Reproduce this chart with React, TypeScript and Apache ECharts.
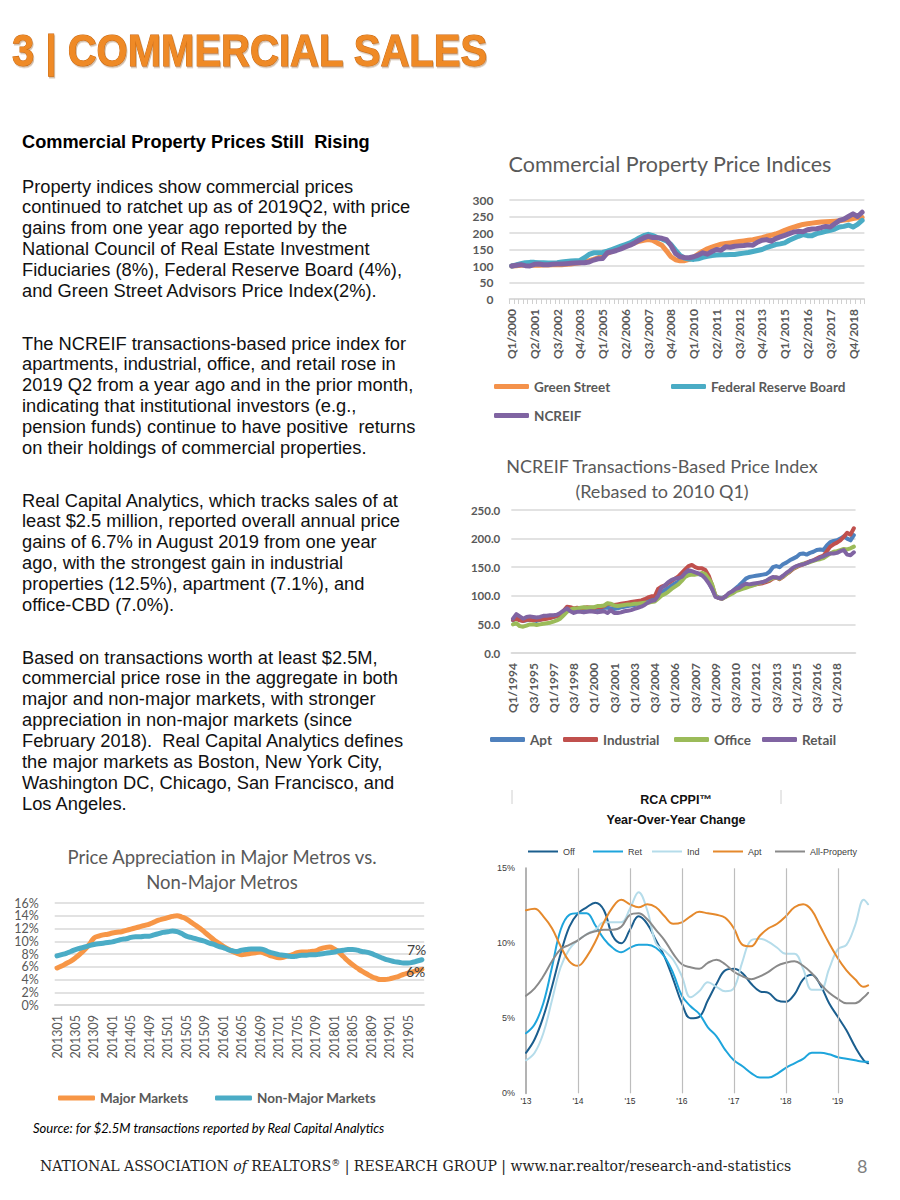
import React, { useEffect, useRef } from "react";
import * as echarts from "echarts";

// ---------------- Chart 1: Commercial Property Price Indices (quarterly, Q1/2000 ..) ----------------
const CPPI_START_YEAR = 2000;
const CPPI_GREEN_STREET = [
  100, 101, 102, 103, 103, 102, 102, 103, 103, 104, 104, 104, 105, 106, 108, 110,
  113, 116, 120, 125, 131, 138, 145, 150, 155, 160, 165, 170, 175, 178, 180, 178,
  170, 163, 146, 128, 119, 116, 116, 120, 127, 136, 145, 152, 157, 162, 166, 168,
  170, 172, 174, 176, 178, 180, 183, 186, 190, 193, 197, 202, 208, 213, 218, 222,
  226, 228, 230, 232, 233, 234, 235, 236, 237, 239, 241, 244, 246, 247,
];
const CPPI_FRB = [
  100, 103, 107, 110, 111, 111, 110, 110, 109, 109, 110, 112, 114, 115, 116, 117,
  125, 135, 140, 140, 141, 145, 150, 155, 160, 165, 170, 177, 185, 192, 196, 192,
  186, 182, 176, 165, 148, 132, 124, 121, 120, 122, 126, 129, 132, 133, 134, 134,
  135, 135, 137, 139, 141, 144, 147, 150, 156, 160, 165, 167, 170, 178, 184, 190,
  195, 192, 192, 198, 201, 205, 208, 212, 218, 220, 224, 218, 226, 238,
];
const CPPI_NCREIF = [
  100, 102, 104, 101, 100, 105, 106, 104, 104, 105, 106, 106, 107, 108, 109, 110,
  110, 112, 118, 122, 123, 140, 143, 147, 152, 158, 163, 170, 178, 185, 190, 186,
  186, 184, 180, 162, 138, 128, 126, 125, 128, 133, 140, 136, 144, 150, 148, 158,
  157, 160, 161, 162, 164, 163, 172, 178, 180, 175, 183, 188, 193, 198, 203, 205,
  204, 210, 212, 213, 216, 220, 218, 228, 238, 242, 250, 258, 250, 263,
];

// ---------------- Chart 2: NCREIF Transactions-Based Price Index (quarterly, Q1/1994 ..) ----------------
const TBI_START_YEAR = 1994;
const TBI_APT = [
  57, 62, 58, 56, 57, 58, 57, 56, 58, 60, 61, 62, 63, 64, 66, 70,
  76, 78, 75, 76, 76, 77, 76, 77, 78, 77, 78, 79, 79, 78, 77, 78,
  80, 81, 82, 83, 84, 85, 86, 88, 91, 93, 94, 100, 105, 110, 114, 118,
  122, 125, 130, 135, 140, 142, 140, 138, 136, 132, 124, 112, 100, 97, 96, 99,
  103, 108, 113, 118, 124, 130, 133, 134, 135, 136, 137, 138, 142, 150, 152, 150,
  155, 158, 162, 165, 168, 173, 174, 172, 175, 177, 180, 181, 180, 188, 194, 196,
  197, 200, 204, 200, 197, 206,
];
const TBI_INDUSTRIAL = [
  58, 60, 57, 56, 58, 58, 57, 58, 58, 59, 60, 61, 63, 65, 68, 74,
  81, 80, 78, 79, 78, 79, 80, 79, 79, 80, 80, 82, 86, 85, 84, 85,
  86, 87, 88, 89, 90, 91, 92, 94, 97, 99, 99, 112, 116, 118, 122, 126,
  130, 134, 140, 146, 152, 154, 150, 148, 148, 145, 135, 118, 100, 96, 95, 99,
  103, 107, 110, 112, 114, 116, 118, 119, 120, 121, 122, 124, 126, 130, 132, 129,
  133, 138, 142, 147, 150, 153, 155, 158, 160, 162, 165, 168, 170, 178, 186, 190,
  193, 197, 203, 210, 207, 218,
];
const TBI_OFFICE = [
  50, 52, 47, 46, 48, 50, 50, 49, 50, 51, 52, 53, 55, 57, 60, 66,
  72, 76, 78, 78, 79, 80, 79, 80, 80, 82, 82, 83, 87, 86, 83, 82,
  83, 84, 85, 85, 86, 86, 87, 88, 88, 89, 90, 95, 100, 103, 107, 112,
  116, 120, 126, 133, 136, 137, 137, 138, 140, 138, 130, 120, 100, 96, 95, 98,
  101, 104, 108, 110, 112, 114, 116, 118, 120, 122, 124, 126, 128, 131, 132, 130,
  134, 138, 143, 148, 151, 154, 156, 157, 159, 161, 163, 164, 166, 170, 174, 177,
  178, 180, 182, 181, 183, 186,
];
const TBI_RETAIL = [
  60, 68, 64, 60, 63, 64, 63, 62, 63, 65, 65, 66, 66, 67, 70, 74,
  78, 73, 70, 72, 72, 71, 72, 73, 72, 71, 72, 73, 70, 75, 70, 70,
  71, 73, 74, 75, 77, 79, 81, 84, 88, 91, 92, 100, 114, 118, 124, 128,
  130, 131, 133, 140, 145, 143, 141, 139, 136, 130, 122, 112, 98, 96, 95, 99,
  105, 108, 112, 114, 118, 121, 120, 121, 122, 123, 124, 126, 130, 133, 132, 131,
  135, 140, 144, 149, 152, 154, 155, 157, 160, 162, 164, 167, 169, 172, 174, 174,
  175, 178, 180, 172, 171, 176,
];

// ---------------- Chart 3: Price Appreciation, Major vs Non-Major (monthly, 201301 ..) ----------------
const METRO_START_YEAR = 2013;
const METRO_MAJOR = [
  5.8, 6.1, 6.5, 6.9, 7.4, 8.0, 8.7, 9.5, 10.5, 10.8, 11.0, 11.1,
  11.3, 11.4, 11.5, 11.7, 11.9, 12.1, 12.3, 12.5, 12.7, 13.0, 13.3, 13.5,
  13.7, 13.9, 14.0, 13.8, 13.5, 13.0, 12.5, 12.0, 11.4, 10.8, 10.2, 9.7,
  9.2, 8.8, 8.4, 8.1, 7.9, 8.0, 8.1, 8.2, 8.3, 8.1, 7.8, 7.6,
  7.4, 7.5, 7.7, 7.9, 8.2, 8.3, 8.3, 8.4, 8.5, 8.8, 9.0, 9.1,
  8.8, 8.3, 7.6, 6.9, 6.3, 5.8, 5.3, 4.9, 4.5, 4.2, 4.0, 4.0,
  4.1, 4.3, 4.5, 4.8, 5.0, 5.2, 5.4, 5.6,
];
const METRO_NON_MAJOR = [
  7.7, 7.9, 8.1, 8.4, 8.7, 8.9, 9.1, 9.3, 9.5, 9.6, 9.7, 9.8,
  9.9, 10.1, 10.3, 10.4, 10.6, 10.7, 10.7, 10.8, 10.8, 11.0, 11.2, 11.4,
  11.5, 11.6, 11.5, 11.2, 10.8, 10.6, 10.4, 10.2, 10.0, 9.7, 9.5, 9.2,
  9.0, 8.7, 8.5, 8.4, 8.6, 8.7, 8.8, 8.8, 8.8, 8.6, 8.3, 8.1,
  7.9, 7.8, 7.7, 7.6, 7.7, 7.8, 7.8, 7.9, 7.9, 8.0, 8.1, 8.2,
  8.3, 8.5, 8.6, 8.7, 8.7, 8.6, 8.4, 8.3, 8.1, 7.8, 7.5, 7.2,
  7.0, 6.8, 6.7, 6.6, 6.6, 6.7, 6.9, 7.1,
];

// ---------------- Chart 4: RCA CPPI Year-Over-Year Change (months after Jan 2013) ----------------
const RCA_START_YEAR = 2013;
const RCA_MONTHS = [
  0, 2, 4, 6, 8, 10, 12, 14, 16, 18, 20, 22, 24, 26, 28, 30, 32, 34, 36, 38,
  40, 42, 44, 46, 48, 50, 52, 54, 56, 58, 60, 62, 64, 66, 68, 70, 72, 74, 76, 78, 79,
];
const RCA_OFF = [
  2.7, 3.6, 5.1, 7.1, 9.3, 11.1, 12.0, 12.4, 12.7, 12.2, 10.5, 10.0, 10.9, 11.8, 11.3, 10.2, 9.1, 7.6, 6.0, 5.0,
  5.1, 6.2, 7.3, 8.2, 8.3, 8.0, 7.3, 6.8, 6.7, 6.2, 6.1, 6.6, 7.6, 7.9, 7.2, 6.0, 5.1, 4.2, 3.1, 2.2, 2.0,
];
const RCA_RET = [
  4.0, 4.6, 6.0, 8.4, 10.9, 11.9, 12.0, 12.0, 11.2, 10.3, 9.7, 9.4, 9.7, 9.9, 9.9, 9.7, 9.1, 8.0, 6.5, 5.8,
  5.3, 4.4, 3.8, 2.9, 2.2, 1.8, 1.35, 1.05, 1.05, 1.3, 1.7, 2.0, 2.3, 2.7, 2.7, 2.6, 2.4, 2.3, 2.2, 2.1, 2.1,
];
const RCA_IND = [
  2.2, 2.7, 4.0, 6.2, 8.4, 9.6, 10.2, 10.6, 10.9, 11.4, 11.4, 11.4, 12.3, 13.4, 12.2, 10.0, 9.5, 8.9, 7.8, 6.4,
  6.8, 7.4, 7.1, 6.8, 7.0, 8.8, 10.2, 10.3, 10.1, 9.7, 9.3, 9.3, 8.3, 6.9, 6.9, 8.3, 9.6, 9.9, 11.2, 12.9, 12.6,
];
const RCA_APT = [
  12.2, 12.3, 11.8, 11.0, 9.8, 8.8, 8.5, 9.1, 10.1, 11.4, 12.4, 12.9, 12.6, 12.4, 12.6, 12.4, 11.8, 11.3, 11.4, 11.8,
  12.1, 12.0, 11.9, 11.7, 11.0, 9.9, 9.8, 10.5, 11.0, 11.3, 11.8, 12.4, 12.6, 12.2, 11.1, 10.0, 9.0, 8.2, 7.6, 7.1, 7.2,
];
const RCA_ALL = [
  6.5, 7.0, 7.8, 8.8, 9.6, 9.9, 10.2, 10.6, 10.8, 10.9, 10.9, 11.1, 11.9, 12.0, 11.6, 10.9, 10.2, 9.3, 8.6, 8.4,
  8.3, 8.7, 8.9, 8.6, 8.1, 7.8, 7.6, 7.8, 8.1, 8.5, 8.7, 8.8, 8.5, 8.0, 7.3, 6.7, 6.3, 6.0, 6.0, 6.4, 6.7,
];
const RCA_GRID_YEARS = [2014, 2015, 2016, 2017, 2018, 2019];

// ---------------- Page text ----------------
const HEADER = "3 | COMMERCIAL SALES";
const LEFT_TITLE = "Commercial Property Prices Still  Rising";
const PARAGRAPHS: { y: number; lines: string[] }[] = [
  {
    y: 186,
    lines: [
      "Property indices show commercial prices",
      "continued to ratchet up as of 2019Q2, with price",
      "gains from one year ago reported by the",
      "National Council of Real Estate Investment",
      "Fiduciaries (8%), Federal Reserve Board (4%),",
      "and Green Street Advisors Price Index(2%).",
    ],
  },
  {
    y: 343,
    lines: [
      "The NCREIF transactions-based price index for",
      "apartments, industrial, office, and retail rose in",
      "2019 Q2 from a year ago and in the prior month,",
      "indicating that institutional investors (e.g.,",
      "pension funds) continue to have positive  returns",
      "on their holdings of commercial properties.",
    ],
  },
  {
    y: 500,
    lines: [
      "Real Capital Analytics, which tracks sales of at",
      "least $2.5 million, reported overall annual price",
      "gains of 6.7% in August 2019 from one year",
      "ago, with the strongest gain in industrial",
      "properties (12.5%), apartment (7.1%), and",
      "office-CBD (7.0%).",
    ],
  },
  {
    y: 657,
    lines: [
      "Based on transactions worth at least $2.5M,",
      "commercial price rose in the aggregate in both",
      "major and non-major markets, with stronger",
      "appreciation in non-major markets (since",
      "February 2018).  Real Capital Analytics defines",
      "the major markets as Boston, New York City,",
      "Washington DC, Chicago, San Francisco, and",
      "Los Angeles.",
    ],
  },
];

const LATO = "Lato, 'Noto Sans', sans-serif";
const ARIAL = "'Liberation Sans', Arial, sans-serif";
const SERIF = "'DejaVu Serif', 'Liberation Serif', serif";
const GREY = "#595959";

function quarterLabels(startYear: number, n: number): string[] {
  const out: string[] = [];
  for (let i = 0; i < n; i++) out.push(`Q${(i % 4) + 1}/${startYear + Math.floor(i / 4)}`);
  return out;
}
function monthLabels(startYear: number, n: number): string[] {
  const out: string[] = [];
  for (let i = 0; i < n; i++) {
    const y = startYear + Math.floor(i / 12);
    const m = (i % 12) + 1;
    out.push(`${y}${m < 10 ? "0" + m : m}`);
  }
  return out;
}

function txt(text: string, x: number, y: number, o: any = {}) {
  const align = o.align || "left";
  const style: any = {
    text,
    fill: o.fill || "#000",
    fontSize: o.size || 12,
    fontFamily: o.family || LATO,
    fontWeight: o.weight || "normal",
    fontStyle: o.fstyle || "normal",
    align,
    verticalAlign: "middle",
    textAlign: align,
    textVerticalAlign: "middle",
  };
  if (o.rich) style.rich = o.rich;
  if (o.stroke) {
    style.stroke = o.stroke;
    style.lineWidth = o.lineWidth;
  }
  if (o.shadow) {
    style.textShadowColor = o.shadow;
    style.textShadowBlur = 1;
    style.textShadowOffsetX = 1;
    style.textShadowOffsetY = 1.5;
  }
  return { type: "text", x, y, scaleX: o.scaleX || 1, silent: true, z: 10, style };
}

function legendItem(name: string, left: number, top: number, o: any) {
  return {
    data: [name],
    left,
    top,
    orient: "horizontal",
    padding: 0,
    itemGap: 0,
    selectedMode: false,
    icon: o.icon,
    itemWidth: o.w,
    itemHeight: o.h,
    textStyle: {
      color: o.color || GREY,
      fontSize: o.size,
      fontFamily: o.family || LATO,
      fontWeight: o.weight || "normal",
    },
  };
}

export default function App() {
  const ref = useRef<HTMLDivElement>(null);

  useEffect(() => {
    if (!ref.current) return;
    const chart = echarts.init(ref.current, undefined, { renderer: "svg" });

    const cppiLabels = quarterLabels(CPPI_START_YEAR, CPPI_NCREIF.length);
    const tbiLabels = quarterLabels(TBI_START_YEAR, TBI_APT.length);
    const metroLabels = monthLabels(METRO_START_YEAR, METRO_MAJOR.length);
    const rcaX = RCA_MONTHS.map((m) => RCA_START_YEAR + m / 12);
    const pairs = (vals: number[]) => vals.map((v, i) => [rcaX[i], v]);

    const graphics: any[] = [];
    // Header
    graphics.push(
      txt(HEADER, 12, 51, {
        size: 44,
        weight: "bold",
        family: ARIAL,
        scaleX: 0.91,
        fill: "#EF8a25",
        stroke: "#C8650F",
        lineWidth: 1,
        shadow: "rgba(120,60,0,0.35)",
      })
    );
    // Left column
    graphics.push(txt(LEFT_TITLE, 22, 142, { size: 18.2, weight: "bold", family: ARIAL, fill: "#000" }));
    PARAGRAPHS.forEach((p) => {
      p.lines.forEach((line, i) => {
        graphics.push(txt(line, 22, p.y + i * 20.9, { size: 18.3, family: ARIAL, fill: "#111" }));
      });
    });
    // Chart titles
    graphics.push(txt("Commercial Property Price Indices", 670, 164, { size: 21.5, align: "center", fill: GREY }));
    graphics.push(txt("NCREIF Transactions-Based Price Index", 662, 466, { size: 18, align: "center", fill: GREY }));
    graphics.push(txt("(Rebased to 2010 Q1)", 662, 491, { size: 18, align: "center", fill: GREY }));
    graphics.push(txt("Price Appreciation in Major Metros vs.", 222, 857, { size: 18.5, align: "center", fill: GREY }));
    graphics.push(txt("Non-Major Metros", 222, 882, { size: 18.5, align: "center", fill: GREY }));
    graphics.push(txt("RCA CPPI™", 676, 800, { size: 12.5, weight: "bold", family: ARIAL, align: "center", fill: "#111" }));
    graphics.push(
      txt("Year-Over-Year Change", 676, 820, { size: 12.5, weight: "bold", family: ARIAL, align: "center", fill: "#111" })
    );
    // RCA frame fragments
    graphics.push({ type: "line", silent: true, shape: { x1: 512, y1: 790, x2: 512, y2: 804 }, style: { stroke: "#d0d0d0", lineWidth: 1 } });
    graphics.push({ type: "line", silent: true, shape: { x1: 781, y1: 790, x2: 781, y2: 804 }, style: { stroke: "#d0d0d0", lineWidth: 1 } });
    // Source
    graphics.push(
      txt("Source: for $2.5M transactions reported by Real Capital Analytics", 33, 1128, {
        size: 13,
        fstyle: "italic",
        fill: "#000",
      })
    );
    // Footer
    graphics.push(
      txt("NATIONAL ASSOCIATION {i|of} REALTORS{s|®} | RESEARCH GROUP | www.nar.realtor/research-and-statistics", 40, 1166, {
        size: 14,
        family: SERIF,
        fill: "#222",
        rich: {
          i: { fontStyle: "italic", fontSize: 14, fontFamily: SERIF, fill: "#222" },
          s: { fontSize: 9, fontFamily: SERIF, fill: "#222", verticalAlign: "top", padding: [0, 0, 6, 0] },
        },
      })
    );
    graphics.push(txt("8", 857, 1166, { size: 18, fill: "#7f7f7f" }));

    const catAxisBase = (data: string[], grid: number, interval: number, bold: boolean, ticks: boolean) => ({
      type: "category",
      gridIndex: grid,
      data,
      boundaryGap: true,
      axisLine: { show: true, lineStyle: { color: "#d9d9d9", width: 1.5 } },
      axisTick: { show: ticks, interval: 0, length: 5, lineStyle: { color: "#d0d0d0" } },
      splitLine: { show: false },
      axisLabel: {
        interval,
        rotate: 90,
        margin: 10,
        color: GREY,
        fontFamily: LATO,
        fontSize: bold ? 12 : 12.5,
        fontWeight: bold ? "bold" : "normal",
      },
    });
    const valAxisBase = (grid: number, max: number, interval: number, margin: number, fmt: any, bold: boolean, size: number, showLabel = true) => ({
      type: "value",
      gridIndex: grid,
      min: 0,
      max,
      interval,
      axisLine: { show: false },
      axisTick: { show: false },
      splitLine: { show: true, lineStyle: { color: "#d9d9d9", width: 1.5 } },
      axisLabel: {
        show: showLabel,
        margin,
        color: GREY,
        fontFamily: LATO,
        fontSize: size,
        fontWeight: bold ? "bold" : "normal",
        formatter: fmt,
        showMinLabel: true,
        showMaxLabel: true,
        hideOverlap: false,
      },
    });
    // label-only axis (no lines) used to print chart 3's percentage ticks in two interleaved sets
    const labelOnlyAxis = (grid: number, max: number, interval: number, fmt: any) => ({
      type: "value",
      gridIndex: grid,
      min: 0,
      max,
      interval,
      axisLine: { show: false },
      axisTick: { show: false },
      splitLine: { show: false },
      axisLabel: {
        margin: 16,
        color: GREY,
        fontFamily: LATO,
        fontSize: 12.5,
        formatter: fmt,
        showMinLabel: true,
        showMaxLabel: true,
      },
    });

    const line = (name: string, data: any[], color: string, width: number, xi: number, smooth: boolean | number, z = 2) => ({
      type: "line",
      name,
      data,
      xAxisIndex: xi,
      yAxisIndex: xi,
      symbol: "none",
      showSymbol: false,
      smooth,
      z,
      lineStyle: { color, width, cap: "round", join: "round" },
      itemStyle: { color },
      emphasis: { disabled: true },
    });

    const endLbl = (offset: number[]) => ({
      show: true,
      distance: 0,
      offset,
      formatter: (p: any) => Math.round(Array.isArray(p.value) ? p.value[1] : p.value) + "%",
      color: "#404040",
      fontSize: 14,
      fontFamily: LATO,
    });

    const C1 = { gs: "#F4924B", frb: "#4AACC5", nc: "#8064A2" };
    const C2 = { apt: "#4F81BD", ind: "#C0504D", off: "#9BBB59", ret: "#8064A2" };
    const C3 = { maj: "#F79646", non: "#4BACC6" };
    const C4 = { off: "#1B5E8E", ret: "#1EA5DC", ind: "#B5DCEA", apt: "#E5892C", all: "#8A8A8A" };

    const C3_TOP = 903;
    const C3_H = 102;
    const C3_STEP = C3_H / 8; // pixels per 2%

    const option: any = {
      animation: false,
      backgroundColor: "#fff",
      textStyle: { fontFamily: LATO },
      grid: [
        { left: 509.4, top: 200, width: 355, height: 99, outerBoundsMode: "none" },
        { left: 511.3, top: 510, width: 344.25, height: 143, outerBoundsMode: "none" },
        { left: 54.7, top: C3_TOP, width: 369.5, height: C3_H, outerBoundsMode: "none" },
        { left: 526, top: 868.3, width: 344, height: 225, outerBoundsMode: "none" },
        { left: 54.7, top: C3_TOP, width: 369.5, height: C3_H, outerBoundsMode: "none" },
        { left: 54.7, top: C3_TOP + C3_STEP, width: 369.5, height: C3_H - 2 * C3_STEP, outerBoundsMode: "none" },
      ],
      xAxis: [
        catAxisBase(cppiLabels, 0, 4, true, true),
        catAxisBase(tbiLabels, 1, 5, true, false),
        catAxisBase(metroLabels, 2, 3, false, false),
        {
          type: "value",
          gridIndex: 3,
          min: 2013,
          max: 2019.62,
          interval: 1,
          axisLine: { show: false },
          axisTick: { show: false },
          splitLine: { show: false },
          axisLabel: {
            margin: 3,
            color: "#333",
            fontFamily: ARIAL,
            fontSize: 8.5,
            formatter: (v: number) => (Math.abs(v - Math.round(v)) < 1e-6 ? "'" + String(Math.round(v)).slice(2) : ""),
          },
        },
        { type: "value", gridIndex: 4, show: false, min: 0, max: 1 },
        { type: "value", gridIndex: 5, show: false, min: 0, max: 1 },
      ],
      yAxis: [
        valAxisBase(0, 300, 50, 16, "{value}", true, 12),
        valAxisBase(1, 250, 50, 11, (v: number) => v.toFixed(1), true, 11.5),
        valAxisBase(2, 16, 2, 16, "{value}%", false, 12.5, false),
        {
          type: "value",
          gridIndex: 3,
          min: 0,
          max: 15,
          interval: 5,
          axisLine: { show: true, onZero: false, lineStyle: { color: "#b3b3b3", width: 2 } },
          axisTick: { show: false },
          splitLine: { show: false },
          axisLabel: {
            margin: 11,
            color: "#404040",
            fontFamily: ARIAL,
            fontSize: 9,
            formatter: "{value}%",
            showMinLabel: true,
            showMaxLabel: true,
          },
        },
        // 0%, 4%, 8%, 12%, 16%
        labelOnlyAxis(4, 16, 4, "{value}%"),
        // 2%, 6%, 10%, 14% (axis spans 2%..14%, values offset by 2)
        labelOnlyAxis(5, 12, 4, (v: number) => v + 2 + "%"),
      ],
      legend: [
        legendItem("Green Street", 494, 379.5, { icon: "roundRect", w: 35, h: 5, size: 13.5, weight: "bold" }),
        legendItem("Federal Reserve Board", 671, 379.5, { icon: "roundRect", w: 35, h: 5, size: 13.5, weight: "bold" }),
        legendItem("NCREIF", 494, 408.5, { icon: "roundRect", w: 35, h: 5, size: 13.5, weight: "bold" }),
        legendItem("Apt", 490, 732.5, { icon: "roundRect", w: 35, h: 5, size: 13.5, weight: "bold" }),
        legendItem("Industrial", 563, 732.5, { icon: "roundRect", w: 35, h: 5, size: 13.5, weight: "bold" }),
        legendItem("Office", 674, 732.5, { icon: "roundRect", w: 35, h: 5, size: 13.5, weight: "bold" }),
        legendItem("Retail", 762, 732.5, { icon: "roundRect", w: 35, h: 5, size: 13.5, weight: "bold" }),
        legendItem("Major Markets", 58, 1091, { icon: "roundRect", w: 37, h: 5, size: 13.5, weight: "bold" }),
        legendItem("Non-Major Markets", 215, 1091, { icon: "roundRect", w: 37, h: 5, size: 13.5, weight: "bold" }),
        legendItem("Off", 528, 847, { icon: "rect", w: 30, h: 2, size: 9, family: ARIAL, color: "#404040" }),
        legendItem("Ret", 593, 847, { icon: "rect", w: 30, h: 2, size: 9, family: ARIAL, color: "#404040" }),
        legendItem("Ind", 652, 847, { icon: "rect", w: 30, h: 2, size: 9, family: ARIAL, color: "#404040" }),
        legendItem("Apt ", 713, 847, { icon: "rect", w: 30, h: 2, size: 9, family: ARIAL, color: "#404040" }),
        legendItem("All-Property", 775, 847, { icon: "rect", w: 30, h: 2, size: 9, family: ARIAL, color: "#404040" }),
      ],
      series: [
        line("Green Street", CPPI_GREEN_STREET, C1.gs, 5, 0, false),
        line("Federal Reserve Board", CPPI_FRB, C1.frb, 5, 0, false),
        line("NCREIF", CPPI_NCREIF, C1.nc, 5, 0, false),
        line("Apt", TBI_APT, C2.apt, 4, 1, false),
        line("Industrial", TBI_INDUSTRIAL, C2.ind, 4, 1, false),
        line("Office", TBI_OFFICE, C2.off, 4, 1, false),
        line("Retail", TBI_RETAIL, C2.ret, 4, 1, false),
        { ...line("Major Markets", METRO_MAJOR, C3.maj, 5, 2, 0.5), endLabel: endLbl([-16, 2]) },
        { ...line("Non-Major Markets", METRO_NON_MAJOR, C3.non, 5, 2, 0.5), endLabel: endLbl([-15, -10]) },
        {
          ...line("Off", pairs(RCA_OFF), C4.off, 2, 3, 0.4, 1),
          markLine: {
            silent: true,
            symbol: ["none", "none"],
            label: { show: false },
            lineStyle: { color: "#bdbdbd", width: 1.2, type: "solid" },
            emphasis: { disabled: true },
            data: RCA_GRID_YEARS.map((y) => ({ xAxis: y })),
          },
        },
        line("Ret", pairs(RCA_RET), C4.ret, 2, 3, 0.4),
        line("Ind", pairs(RCA_IND), C4.ind, 2, 3, 0.4),
        line("Apt ", pairs(RCA_APT), C4.apt, 2, 3, 0.4),
        line("All-Property", pairs(RCA_ALL), C4.all, 2, 3, 0.4),
      ],
      graphic: { elements: graphics },
    };

    chart.setOption(option);
    return () => chart.dispose();
  }, []);

  return (
    <div
      ref={ref}
      style={{ position: "absolute", left: 0, top: 0, width: 900, height: 1200, background: "#fff" }}
    />
  );
}
